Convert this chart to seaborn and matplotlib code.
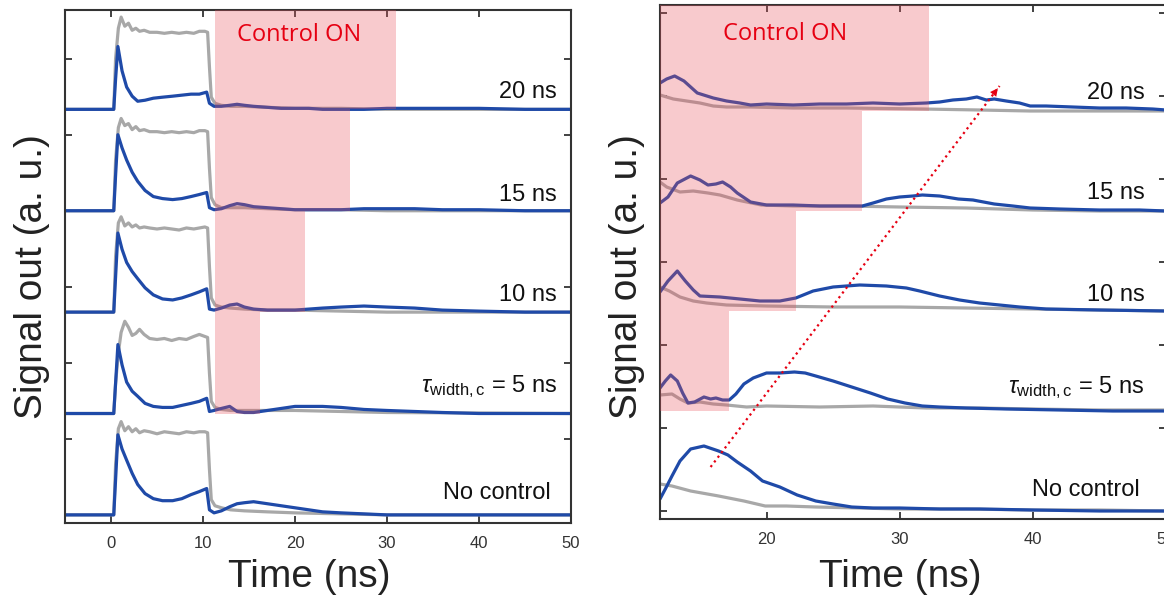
import numpy as np
import matplotlib
matplotlib.use("Agg")
import matplotlib.pyplot as plt
import seaborn as sns

# Setup
sns.set_theme(style="ticks")
plt.rcParams['font.family'] = ['Liberation Sans', 'DejaVu Sans']
plt.rcParams['mathtext.fontset'] = 'custom'
plt.rcParams['mathtext.rm'] = 'Liberation Sans'
plt.rcParams['mathtext.it'] = 'Liberation Sans:italic'

BLUE = '#1f4aa8'
GRAY = '#a8a8a8'
PINK = '#e8505b'
RED = '#e60012'
INK = '#333333'

# traces from bottom to top: no control, 5, 10, 15, 20 ns control width
trace_labels = ['No control', r'$\tau_{\mathrm{width,c}}$ = 5 ns', '10 ns', '15 ns', '20 ns']
control_end_left = [None, 16.2, 21.1, 26.0, 31.0]
control_end_right = [None, 17.2, 22.2, 27.2, 32.2]
control_start = 11.3

# ---------- left panel: full pulse, -5 .. 50 ns ----------
t_left_blue = [-5, 0.3, 0.5, 0.75, 1.2, 1.7, 2.3, 2.9, 3.7, 4.6, 5.6, 6.7, 7.7, 8.7, 9.6,
               10.4, 10.7, 11.2, 12.0, 12.9, 13.7, 14.5, 15.5, 17, 18.5, 20, 21.5, 23, 25,
               27.5, 30, 33, 36, 40, 45, 50]
left_blue_nc = [0, 0, 0.35, 0.79, 0.65, 0.54, 0.41, 0.30, 0.21, 0.16, 0.14, 0.14, 0.16, 0.20, 0.23,
                0.26, 0.05, 0.02, 0.04, 0.08, 0.11, 0.12, 0.13, 0.11, 0.09, 0.07, 0.05, 0.03, 0.02,
                0.01, 0.0, 0.0, 0.0, 0.0, 0.0, 0.0]
left_blue_5 = [0, 0, 0.30, 0.68, 0.48, 0.31, 0.22, 0.17, 0.10, 0.07, 0.06, 0.06, 0.08, 0.10, 0.12,
               0.15, 0.02, 0.03, 0.05, 0.07, 0.02, 0.01, 0.01, 0.03, 0.05, 0.07, 0.07, 0.07, 0.06,
               0.04, 0.03, 0.02, 0.01, 0.0, 0.0, 0.0]
left_blue_10 = [0, 0, 0.35, 0.78, 0.62, 0.49, 0.40, 0.33, 0.24, 0.17, 0.13, 0.12, 0.14, 0.17, 0.20,
                0.23, 0.03, 0.02, 0.04, 0.07, 0.08, 0.05, 0.03, 0.02, 0.02, 0.02, 0.03, 0.04, 0.05,
                0.06, 0.05, 0.04, 0.02, 0.01, 0.0, 0.0]
left_blue_15 = [0, 0, 0.35, 0.75, 0.62, 0.50, 0.38, 0.29, 0.20, 0.14, 0.12, 0.11, 0.12, 0.14, 0.16,
                0.18, 0.03, 0.01, 0.02, 0.05, 0.07, 0.06, 0.04, 0.03, 0.02, 0.01, 0.01, 0.01, 0.01,
                0.02, 0.02, 0.02, 0.01, 0.01, 0.0, 0.0]
left_blue_20 = [0, 0, 0.30, 0.62, 0.38, 0.22, 0.13, 0.08, 0.09, 0.11, 0.12, 0.13, 0.14, 0.15, 0.15,
                0.17, 0.06, 0.03, 0.03, 0.04, 0.05, 0.04, 0.03, 0.02, 0.01, 0.01, 0.01, 0.0, 0.0,
                0.0, 0.01, 0.01, 0.01, 0.01, 0.0, 0.0]

t_left_gray = [-5, 0.3, 0.5, 0.8, 1.1, 1.5, 1.9, 2.3, 2.7, 3.1, 3.6, 4.2, 5.0, 5.8, 6.6, 7.4,
               8.2, 9.0, 9.6, 10.2, 10.5, 10.7, 10.9, 11.3, 12, 13, 14.5, 17, 20, 25, 30, 50]
left_gray_nc = [0, 0, 0.50, 0.85, 0.92, 0.83, 0.87, 0.82, 0.85, 0.81, 0.83, 0.82, 0.80, 0.82, 0.81, 0.80,
                0.82, 0.81, 0.82, 0.82, 0.81, 0.45, 0.15, 0.09, 0.07, 0.05, 0.04, 0.03, 0.02, 0.01, 0.0, 0.0]
left_gray_5 = [0, 0, 0.30, 0.60, 0.80, 0.91, 0.85, 0.77, 0.79, 0.83, 0.78, 0.74, 0.73, 0.74, 0.72, 0.74,
               0.73, 0.76, 0.78, 0.76, 0.75, 0.40, 0.12, 0.06, 0.04, 0.03, 0.03, 0.03, 0.03, 0.02, 0.01, 0.0]
left_gray_10 = [0, 0, 0.55, 0.88, 0.94, 0.85, 0.88, 0.84, 0.86, 0.83, 0.84, 0.83, 0.82, 0.83, 0.82, 0.81,
                0.83, 0.82, 0.83, 0.84, 0.83, 0.45, 0.14, 0.07, 0.05, 0.04, 0.03, 0.02, 0.02, 0.01, 0.0, 0.0]
left_gray_15 = [0, 0, 0.50, 0.82, 0.91, 0.84, 0.86, 0.80, 0.83, 0.79, 0.80, 0.78, 0.78, 0.77, 0.78, 0.77,
                0.78, 0.77, 0.79, 0.79, 0.78, 0.42, 0.13, 0.06, 0.03, 0.03, 0.03, 0.02, 0.01, 0.01, 0.0, 0.0]
left_gray_20 = [0, 0, 0.50, 0.80, 0.91, 0.82, 0.85, 0.78, 0.80, 0.77, 0.78, 0.76, 0.76, 0.75, 0.76, 0.75,
                0.76, 0.75, 0.77, 0.77, 0.76, 0.42, 0.12, 0.06, 0.04, 0.03, 0.03, 0.02, 0.01, 0.01, 0.0, 0.0]

left_blue = [left_blue_nc, left_blue_5, left_blue_10, left_blue_15, left_blue_20]
left_gray = [left_gray_nc, left_gray_5, left_gray_10, left_gray_15, left_gray_20]

# ---------- right panel: zoom on the tail, 12 .. 50 ns ----------
t_r_blue_nc = [12, 12.4, 12.9, 13.5, 14.3, 15.3, 16.4, 17.1, 17.8, 18.8, 19.7, 21, 22.3, 23.7, 25,
               26.4, 28, 30, 33, 36, 40, 45, 50]
r_blue_nc = [0.12, 0.22, 0.35, 0.50, 0.62, 0.65, 0.60, 0.56, 0.49, 0.40, 0.30, 0.24, 0.16, 0.10, 0.07,
             0.04, 0.03, 0.03, 0.02, 0.02, 0.01, 0.0, 0.0]
t_r_gray_nc = [12, 12.9, 14.3, 16.4, 18.3, 19.9, 21.5, 23.7, 27, 30, 35, 40, 45, 50]
r_gray_nc = [0.27, 0.25, 0.20, 0.15, 0.10, 0.05, 0.05, 0.04, 0.03, 0.02, 0.02, 0.01, 0.01, 0.0]

t_r_blue_5 = [12, 12.4, 12.8, 13.3, 13.7, 14.1, 14.6, 15.3, 15.8, 16.2, 16.7, 17.2, 17.7, 18.3, 19,
              20, 21, 22.1, 22.9, 23.7, 25, 26.4, 27.8, 29.1, 30.4, 31.7, 33, 35, 38, 42, 46, 50]
r_blue_5 = [0.23, 0.30, 0.36, 0.30, 0.18, 0.08, 0.09, 0.14, 0.12, 0.13, 0.11, 0.11, 0.17, 0.27, 0.33,
            0.38, 0.38, 0.39, 0.38, 0.35, 0.30, 0.24, 0.18, 0.12, 0.08, 0.05, 0.04, 0.03, 0.02, 0.01, 0.0, 0.0]
t_r_gray_5 = [12, 12.9, 13.5, 14.1, 15, 16, 17, 18.5, 20, 24, 28, 32, 36, 40, 45, 50]
r_gray_5 = [0.16, 0.17, 0.12, 0.08, 0.09, 0.07, 0.06, 0.04, 0.05, 0.04, 0.05, 0.03, 0.03, 0.02, 0.01, 0.01]

t_r_blue_10 = [12, 12.6, 13.3, 13.9, 14.5, 15, 16.5, 18, 19.5, 21, 22.2, 23.5, 25, 27, 29, 30.5,
               31.5, 33, 34.5, 36, 37.5, 39, 41, 45, 50]
r_blue_10 = [0.19, 0.30, 0.40, 0.30, 0.21, 0.15, 0.14, 0.12, 0.10, 0.10, 0.13, 0.20, 0.24, 0.26, 0.25, 0.23,
             0.20, 0.15, 0.11, 0.08, 0.06, 0.04, 0.02, 0.01, 0.0]
t_r_gray_10 = [12, 12.7, 13.5, 14.5, 15.5, 17, 20, 25, 30, 35, 40, 45, 50]
r_gray_10 = [0.24, 0.20, 0.14, 0.10, 0.08, 0.06, 0.05, 0.04, 0.04, 0.03, 0.02, 0.01, 0.0]

t_r_blue_15 = [12, 12.6, 13.3, 14.3, 15.0, 15.6, 16.2, 16.7, 17.3, 17.8, 18.8, 20, 22, 24, 26, 27.2,
               28, 29, 30, 31, 31.7, 33, 34.4, 35.5, 37.1, 38.5, 39.8, 42, 45, 48, 50]
r_blue_15 = [0.08, 0.14, 0.28, 0.35, 0.31, 0.26, 0.27, 0.29, 0.24, 0.18, 0.09, 0.06, 0.06, 0.05, 0.05, 0.05,
             0.08, 0.12, 0.14, 0.15, 0.16, 0.15, 0.12, 0.11, 0.07, 0.05, 0.03, 0.02, 0.01, 0.01, 0.0]
t_r_gray_15 = [12, 12.5, 13.5, 14.5, 15.6, 16.5, 17.8, 19.6, 22, 26, 30, 35, 40, 45, 50]
r_gray_15 = [0.29, 0.24, 0.19, 0.20, 0.18, 0.16, 0.11, 0.06, 0.05, 0.05, 0.04, 0.03, 0.01, 0.0, 0.0]

t_r_blue_20 = [12, 12.5, 13.1, 13.8, 14.8, 16, 17, 18, 18.8, 20, 22, 24, 26, 28, 30, 32, 33, 34, 35,
               35.8, 36.5, 37.1, 38, 39, 39.8, 41, 43, 45, 47, 49, 50]
r_blue_20 = [0.28, 0.32, 0.35, 0.30, 0.18, 0.13, 0.10, 0.08, 0.06, 0.07, 0.06, 0.07, 0.07, 0.08, 0.07, 0.08,
             0.09, 0.11, 0.12, 0.14, 0.11, 0.12, 0.10, 0.08, 0.05, 0.05, 0.04, 0.03, 0.03, 0.02, 0.01]
t_r_gray_20 = [12, 13, 14, 15, 16, 17, 18.8, 22, 26, 31.7, 36, 39.8, 45, 50]
r_gray_20 = [0.16, 0.12, 0.10, 0.08, 0.05, 0.04, 0.04, 0.03, 0.03, 0.02, 0.01, 0.0, 0.0, 0.0]

right_blue = [(t_r_blue_nc, r_blue_nc), (t_r_blue_5, r_blue_5), (t_r_blue_10, r_blue_10),
              (t_r_blue_15, r_blue_15), (t_r_blue_20, r_blue_20)]
right_gray = [(t_r_gray_nc, r_gray_nc), (t_r_gray_5, r_gray_5), (t_r_gray_10, r_gray_10),
              (t_r_gray_15, r_gray_15), (t_r_gray_20, r_gray_20)]

# peak-shift guide arrow (ns, offset units)
arrow_start = (15.8, 0.44)
arrow_end = (37.5, 4.25)

left_label_dy = [0.22, 0.27, 0.17, 0.16, 0.17]
right_label_dy = [0.21, 0.23, 0.16, 0.18, 0.18]

fig = plt.figure(figsize=(11.64, 5.96), dpi=100)
ax1 = fig.add_axes([65 / 1164, 73 / 596, 506 / 1164, 513 / 596])
ax2 = fig.add_axes([660 / 1164, 77 / 596, 506 / 1164, 514 / 596])


def style_axes(ax, xlim, ylim, xticks, yticks):
    ax.set_xlim(*xlim)
    ax.set_ylim(*ylim)
    ax.set_xticks(xticks)
    ax.set_yticks(yticks)
    ax.tick_params(direction='in', length=5, width=1.3, colors=INK, top=True, right=True,
                   labelleft=False, labelsize=12, pad=9)
    for s in ax.spines.values():
        s.set_color(INK)
        s.set_linewidth(1.5)
    ax.set_xlabel('')
    ax.set_ylabel('')


# left panel
for i in range(5):
    sns.lineplot(x=t_left_gray, y=np.array(left_gray[i]) + i, ax=ax1, color=GRAY, lw=2.3,
                 estimator=None, sort=False, legend=False, zorder=2)
    sns.lineplot(x=t_left_blue, y=np.array(left_blue[i]) + i, ax=ax1, color=BLUE, lw=2.3,
                 estimator=None, sort=False, legend=False, zorder=2.5)
style_axes(ax1, (-5, 50), (-0.08, 4.98), [0, 10, 20, 30, 40, 50], [k * 0.75 for k in range(7)])
for i in range(1, 5):
    top = i + 1 if i < 4 else 4.98
    ax1.fill_betweenx([i, top], control_start, control_end_left[i], color=PINK, alpha=0.3,
                      lw=0, zorder=3)

for i in range(5):
    ax1.text(47.8 if i == 0 else 48.5, i + left_label_dy[i], trace_labels[i], ha='right',
             va='center', fontsize=17, color='#111111')
ax1.text(20.4, 4.73, 'Control ON', ha='center', va='center', fontsize=17, color=RED,
         family=['Open Sans', 'DejaVu Sans'])

# right panel
for i in range(5):
    sns.lineplot(x=right_gray[i][0], y=np.array(right_gray[i][1]) + i, ax=ax2, color=GRAY, lw=2.3,
                 estimator=None, sort=False, legend=False, zorder=2)
    sns.lineplot(x=right_blue[i][0], y=np.array(right_blue[i][1]) + i, ax=ax2, color=BLUE, lw=2.3,
                 estimator=None, sort=False, legend=False, zorder=2.5)
style_axes(ax2, (12, 50), (-0.08, 5.06), [20, 30, 40, 50], [k * 0.83 for k in range(7)])
for i in range(1, 5):
    top = i + 1 if i < 4 else 5.06
    ax2.fill_betweenx([i, top], control_start, control_end_right[i], color=PINK, alpha=0.3,
                      lw=0, zorder=3)
for i in range(5):
    ax2.text(48.0 if i == 0 else 48.4, i + right_label_dy[i], trace_labels[i], ha='right',
             va='center', fontsize=17, color='#111111')
ax2.text(21.4, 4.77, 'Control ON', ha='center', va='center', fontsize=17, color=RED,
         family=['Open Sans', 'DejaVu Sans'])

ax2.plot([arrow_start[0], arrow_end[0]], [arrow_start[1], arrow_end[1]], ls=':', color=RED,
         lw=1.6, zorder=4)
ax2.annotate('', xy=arrow_end, xytext=(arrow_end[0] - 0.6, arrow_end[1] - 0.105),
             arrowprops=dict(arrowstyle='-|>', color=RED, lw=0, mutation_scale=14), zorder=4)

# axis labels placed in figure pixels
fig.text(32 / 1164, 1 - 277 / 596, 'Signal out (a. u.)', rotation=90, ha='center', va='center',
         fontsize=28, color='#222222')
fig.text(627 / 1164, 1 - 277 / 596, 'Signal out (a. u.)', rotation=90, ha='center', va='center',
         fontsize=28, color='#222222')
fig.text(309 / 1164, 1 - 577 / 596, 'Time (ns)', ha='center', va='center', fontsize=28,
         color='#222222')
fig.text(900 / 1164, 1 - 577 / 596, 'Time (ns)', ha='center', va='center', fontsize=28,
         color='#222222')

fig.savefig('out.png', dpi=100)
